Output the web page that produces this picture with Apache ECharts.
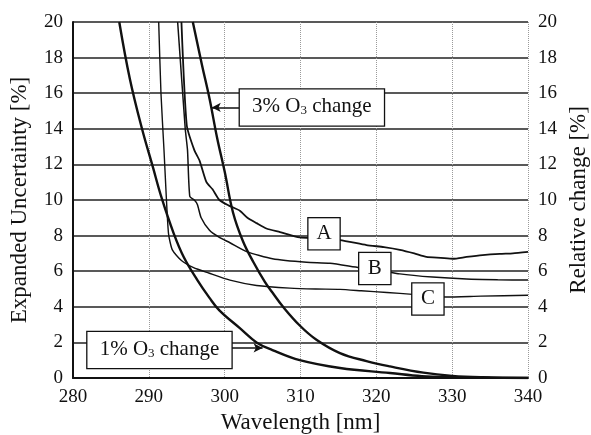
<!DOCTYPE html>
<html>
<head>
<meta charset="utf-8">
<script src="https://cdn.jsdelivr.net/npm/echarts@6/dist/echarts.min.js"></script>
<style>
  html, body { margin: 0; padding: 0; background: #fff; }
  #chart { width: 591px; height: 435px; }
</style>
</head>
<body>
<div id="chart"></div>
<script>
// wavelength ticks [nm] and value ticks [%]
const xTicks = [280, 290, 300, 310, 320, 330, 340];
const yTicks = [0, 2, 4, 6, 8, 10, 12, 14, 16, 18, 20];

// 1% O3 change curve
const o3OneWl  = [286.1, 287.5, 289.1, 290.5, 291.7, 293.3, 294.6, 296.4, 298.0, 299.3, 302.0, 304.2, 306.3, 309.9, 315.2, 321.8, 326.0, 330.0, 335.0, 340.0];
const o3OneVal = [20, 16.8, 14, 11.9, 10.1, 8.1, 6.8, 5.5, 4.5, 3.8, 2.8, 2.0, 1.57, 1.0, 0.56, 0.28, 0.1, 0.04, 0.01, 0];

// 3% O3 change curve
const o3ThreeWl  = [295.8, 297.0, 298.0, 299.0, 300.0, 301.1, 302.4, 303.8, 305.3, 306.3, 307.7, 309.9, 312.1, 315.2, 318.7, 321.8, 326.2, 330.0, 334.0, 340.0];
const o3ThreeVal = [20, 17.6, 15.7, 13.5, 11.6, 9.3, 7.7, 6.5, 5.4, 4.8, 4.0, 2.95, 2.15, 1.4, 0.95, 0.65, 0.3, 0.12, 0.04, 0];

// expanded uncertainty A
const aWl  = [294.3, 295.0, 296.0, 296.7, 297.6, 298.4, 299.3, 300.5, 302.0, 303.0, 304.2, 305.5, 307.3, 309.9, 312.0, 315.2, 318.7, 321.0, 323.1, 325.0, 326.6, 328.5, 330.1, 331.9, 334.0, 336.3, 338.0, 340.0];
const aVal = [20, 14.2, 12.8, 12.2, 11.0, 10.6, 10.0, 9.7, 9.4, 9.0, 8.7, 8.4, 8.2, 7.9, 7.85, 7.75, 7.47, 7.35, 7.2, 7.0, 6.8, 6.75, 6.7, 6.8, 6.9, 6.97, 7.0, 7.08];

// expanded uncertainty B
const bWl  = [293.8, 294.8, 295.1, 295.4, 296.0, 296.4, 296.9, 298.0, 299.3, 300.7, 302.9, 306.3, 310.8, 313.9, 317.8, 320.0, 323.1, 327.4, 331.9, 336.0, 340.0];
const bVal = [20, 14.0, 12.8, 10.2, 10.0, 9.75, 9.0, 8.3, 7.9, 7.6, 7.1, 6.7, 6.5, 6.45, 6.2, 6.1, 5.85, 5.67, 5.56, 5.52, 5.5];

// expanded uncertainty C
const cWl  = [291.3, 291.6, 292.0, 292.3, 292.6, 293.1, 294.3, 295.9, 297.9, 300.7, 304.2, 308.6, 312.0, 315.2, 318.0, 321.4, 324.8, 327.0, 329.2, 333.8, 340.0];
const cVal = [20, 16, 12.8, 10.2, 8.1, 7.2, 6.6, 6.2, 5.9, 5.5, 5.2, 5.05, 5.0, 4.98, 4.9, 4.8, 4.7, 4.6, 4.55, 4.6, 4.65];

// label anchors [wavelength, value]
const labelA = [313.1, 8.1];
const labelB = [319.8, 6.15];
const labelC = [326.8, 4.44];
const label3 = [311.5, 15.2];
const label1 = [291.4, 1.57];
const arrow3 = [[302.0, 15.2], [298.3, 15.2]];
const arrow1 = [[300.9, 1.69], [305.0, 1.69]];

const FONT = 'Liberation Serif';
const INK = '#111';

function pairs(xs, ys) {
  return xs.map((x, i) => [x, ys[i]]);
}

// boxed labels are drawn as label backgrounds so the border stays even
function letterBox(name, coord) {
  return {
    name: name,
    coord: coord,
    symbol: 'circle',
    symbolSize: 1,
    itemStyle: { color: 'rgba(0,0,0,0)' },
    label: {
      show: true, position: 'inside', formatter: name,
      color: INK, fontFamily: FONT, fontSize: 21,
      width: 15, height: 23, lineHeight: 23, align: 'center', verticalAlign: 'middle',
      padding: [4, 8], backgroundColor: '#fff', borderColor: INK, borderWidth: 1.3
    }
  };
}

function o3Box(pct, coord) {
  return {
    coord: coord,
    symbol: 'circle',
    symbolSize: 1,
    itemStyle: { color: 'rgba(0,0,0,0)' },
    label: {
      show: true,
      position: 'inside',
      formatter: '{t|' + pct + ' O}{s|3}{t| change}',
      width: 124, height: 24, align: 'center', verticalAlign: 'middle',
      padding: [6, 10], backgroundColor: '#fff', borderColor: INK, borderWidth: 1.3,
      rich: {
        t: { fontFamily: FONT, fontSize: 21, color: INK, lineHeight: 22 },
        s: { fontFamily: FONT, fontSize: 13, color: INK, lineHeight: 6, verticalAlign: 'bottom' }
      }
    }
  };
}

function arrowLine(seg) {
  return {
    silent: true,
    symbol: ['none', 'arrow'],
    symbolSize: [7, 9],
    lineStyle: { color: INK, width: 1.5, type: 'solid' },
    label: { show: false },
    emphasis: { disabled: true },
    data: [[{ coord: seg[0] }, { coord: seg[1] }]]
  };
}

const chart = echarts.init(document.getElementById('chart'), null, { renderer: 'canvas' });

const axisLabel = { fontFamily: FONT, fontSize: 19, color: INK, margin: 10 };
const nameStyle = { fontFamily: FONT, fontSize: 23, color: INK };

const option = {
  animation: false,
  backgroundColor: '#fff',
  grid: { left: 73, right: 63, top: 22, bottom: 57, containLabel: false, outerBoundsMode: 'none' },
  xAxis: {
    type: 'value',
    min: xTicks[0],
    max: xTicks[xTicks.length - 1],
    interval: 10,
    name: 'Wavelength [nm]',
    nameLocation: 'middle',
    nameGap: 31,
    nameTextStyle: nameStyle,
    axisLine: { show: true, lineStyle: { color: INK, width: 2 } },
    axisTick: { show: false },
    axisLabel: axisLabel,
    splitLine: { show: true, lineStyle: { color: '#9a9a9a', width: 1, type: 'dotted' } }
  },
  yAxis: [
    {
      type: 'value',
      min: yTicks[0],
      max: yTicks[yTicks.length - 1],
      interval: 2,
      name: 'Expanded Uncertainty [%]',
      nameLocation: 'middle',
      nameRotate: 90,
      nameGap: 42,
      nameTextStyle: nameStyle,
      axisLine: { show: true, lineStyle: { color: INK, width: 2 } },
      axisTick: { show: false },
      axisLabel: axisLabel,
      splitLine: { show: true, lineStyle: { color: '#222', width: 1.5 } }
    },
    {
      type: 'value',
      position: 'right',
      min: yTicks[0],
      max: yTicks[yTicks.length - 1],
      interval: 2,
      name: 'Relative change [%]',
      nameLocation: 'middle',
      nameRotate: 90,
      nameGap: 39,
      nameTextStyle: nameStyle,
      axisLine: { show: false },
      axisTick: { show: false },
      axisLabel: axisLabel,
      splitLine: { show: false }
    }
  ],
  series: [
    {
      name: 'C', type: 'line', yAxisIndex: 0, symbol: 'none', smooth: 0.2,
      lineStyle: { color: INK, width: 1.4 },
      data: pairs(cWl, cVal),
      markPoint: { silent: true, z: 10, data: [letterBox('C', labelC)] }
    },
    {
      name: 'B', type: 'line', yAxisIndex: 0, symbol: 'none', smooth: 0.2,
      lineStyle: { color: INK, width: 1.5 },
      data: pairs(bWl, bVal),
      markPoint: { silent: true, z: 10, data: [letterBox('B', labelB)] }
    },
    {
      name: 'A', type: 'line', yAxisIndex: 0, symbol: 'none', smooth: 0.2,
      lineStyle: { color: INK, width: 1.8 },
      data: pairs(aWl, aVal),
      markPoint: { silent: true, z: 10, data: [letterBox('A', labelA)] }
    },
    {
      name: '1% O3 change', type: 'line', yAxisIndex: 1, symbol: 'none', smooth: 0.4,
      lineStyle: { color: INK, width: 2.4 },
      data: pairs(o3OneWl, o3OneVal),
      markLine: arrowLine(arrow1),
      markPoint: { silent: true, z: 10, data: [o3Box('1%', label1)] }
    },
    {
      name: '3% O3 change', type: 'line', yAxisIndex: 1, symbol: 'none', smooth: 0.4,
      lineStyle: { color: INK, width: 2.4 },
      data: pairs(o3ThreeWl, o3ThreeVal),
      markLine: arrowLine(arrow3),
      markPoint: { silent: true, z: 10, data: [o3Box('3%', label3)] }
    }
  ]
};

chart.setOption(option);
</script>
</body>
</html>
